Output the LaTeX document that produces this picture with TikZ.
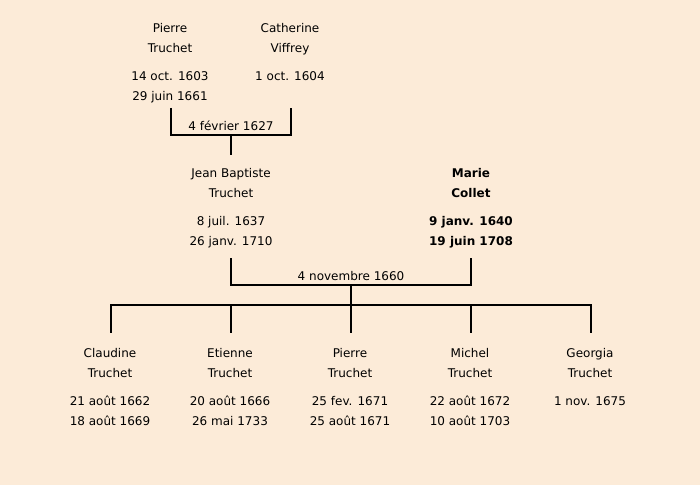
\documentclass[tikz,border=0pt]{standalone}
\usepackage{fontspec}
\setmainfont{DejaVu Sans}
\usetikzlibrary{calc}
\definecolor{paper}{HTML}{FCEBD8}

\begin{document}
\begin{tikzpicture}[x=0.75pt, y=-0.75pt,
        person/.style={anchor=north, align=center, inner sep=0pt, font=\fontsize{9}{15}\selectfont},
        wedding/.style={inner sep=0pt, font=\fontsize{9}{11}\selectfont},
        link/.style={line width=1.5pt}]
        \fill[paper] (0, 0) rectangle (700, 485);

        % grandparents
        \node[person] (pierre) at (170, 23) {Pierre\\Truchet\\[6pt]14 oct. 1603\\29 juin 1661};
        \node[person] (catherine) at (290, 23) {Catherine\\Viffrey\\[6pt]1 oct. 1604};
        \coordinate (pierre-b) at (171, 108);
        \coordinate (catherine-b) at (291, 108);
        \coordinate (union1) at (231, 135);
        \node[wedding] (wed1) at (231, 126) {4 f\'evrier 1627};
        \draw[link] (pierre-b) |- (union1) -| (catherine-b);

        % parents
        \node[person] (jean) at (231, 168) {Jean Baptiste\\Truchet\\[6pt]8 juil. 1637\\26 janv. 1710};
        \node[person, font=\fontsize{9}{15}\selectfont\bfseries] (marie) at (471, 168) {Marie\\Collet\\[6pt]9 janv. 1640\\19 juin 1708};
        \coordinate (jean-t) at (231, 155);
        \draw[link] (union1) -- (jean-t);
        \coordinate (jean-b) at (231, 258);
        \coordinate (marie-b) at (471, 258);
        \coordinate (union2) at (351, 285);
        \coordinate (sibs) at (351, 305);
        \node[wedding] (wed2) at (351, 276) {4 novembre 1660};
        \draw[link] (jean-b) |- (union2) -| (marie-b);
        \draw[link] (union2) -- (sibs);

        % children
        \coordinate (sibs-l) at (110, 305);
        \coordinate (sibs-r) at (592, 305);
        \draw[link] (sibs-l) -- (sibs-r);
        \foreach \name/\x/\txt in {claudine/111/{Claudine\\Truchet\\[6pt]21 ao\^ut 1662\\18 ao\^ut 1669},
                etienne/231/{Etienne\\Truchet\\[6pt]20 ao\^ut 1666\\26 mai 1733},
                pierrej/351/{Pierre\\Truchet\\[6pt]25 fev. 1671\\25 ao\^ut 1671},
                michel/471/{Michel\\Truchet\\[6pt]22 ao\^ut 1672\\10 ao\^ut 1703},
                georgia/591/{Georgia\\Truchet\\[6pt]1 nov. 1675}} {
            \node[person] (\name) at (\x-1, 348) {\txt};
            \draw[link] (\x, 305) -- (\x, 333);
        }
\end{tikzpicture}
\end{document}
